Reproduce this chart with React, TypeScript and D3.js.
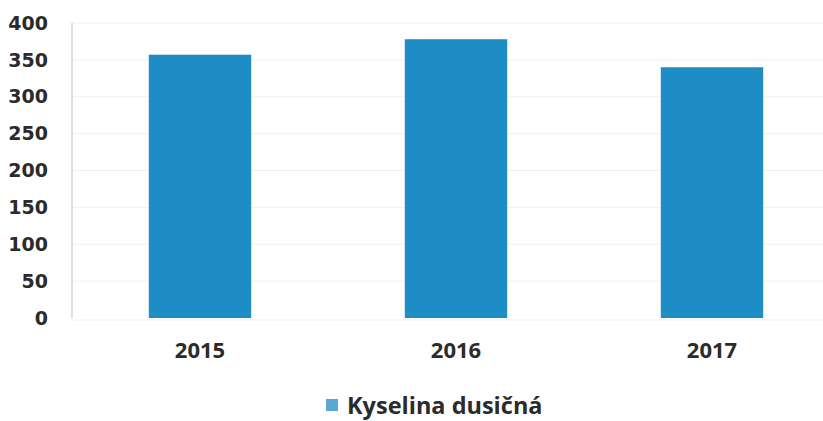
import { useEffect, useRef } from 'react';
import * as d3 from 'd3';

const years = ['2015', '2016', '2017'];
const values = [357, 378, 340];
const yTicks = [0, 50, 100, 150, 200, 250, 300, 350, 400];
const seriesName = 'Kyselina dusičná';

const W = 823;
const H = 421;

export default function App() {
  const svgRef = useRef<SVGSVGElement>(null);

  useEffect(() => {
    if (!svgRef.current) return;
    const svg = d3.select(svgRef.current);
    svg.selectAll('*').remove();

    const left = 72;
    const right = 840;
    const y = d3.scaleLinear().domain([0, 400]).range([318, 23]);
    const x = d3.scaleBand<string>()
      .domain(years)
      .range([left, right])
      .paddingInner(0.6)
      .paddingOuter(0.3);

    // faint gridlines
    svg.append('g')
      .selectAll('line')
      .data(yTicks.slice(1))
      .enter()
      .append('line')
      .attr('x1', left)
      .attr('x2', W)
      .attr('y1', d => y(d))
      .attr('y2', d => y(d))
      .attr('stroke', '#efefef')
      .attr('stroke-width', 1);

    // left axis line
    svg.append('line')
      .attr('x1', left)
      .attr('x2', left)
      .attr('y1', y(400))
      .attr('y2', y(0))
      .attr('stroke', '#d6d6d6')
      .attr('stroke-width', 1.5);

    // bottom baseline
    svg.append('line')
      .attr('x1', left)
      .attr('x2', W)
      .attr('y1', y(0) + 2)
      .attr('y2', y(0) + 2)
      .attr('stroke', '#f0f0f0');

    // bars
    svg.append('g')
      .selectAll('rect')
      .data(years)
      .enter()
      .append('rect')
      .attr('x', d => x(d) || 0)
      .attr('width', x.bandwidth())
      .attr('y', (d, i) => y(values[i]))
      .attr('height', (d, i) => y(0) - y(values[i]))
      .attr('fill', '#1e8dc6');

    // y labels
    svg.append('g')
      .selectAll('text')
      .data(yTicks)
      .enter()
      .append('text')
      .attr('x', 48)
      .attr('y', d => y(d))
      .attr('dy', '0.35em')
      .attr('text-anchor', 'end')
      .style('font-family', 'DejaVu Sans')
      .style('font-weight', 'bold')
      .style('font-size', '19px')
      .style('fill', '#2b2b2b')
      .text(d => d);

    // x labels
    svg.append('g')
      .selectAll('text')
      .data(years)
      .enter()
      .append('text')
      .attr('x', d => (x(d) || 0) + x.bandwidth() / 2)
      .attr('y', 358)
      .attr('text-anchor', 'middle')
      .style('font-family', 'Open Sans')
      .style('font-weight', 'bold')
      .style('font-size', '22px')
      .style('fill', '#2b2b2b')
      .text(d => d);

    // legend
    svg.append('rect')
      .attr('x', 326)
      .attr('y', 399)
      .attr('width', 12)
      .attr('height', 12)
      .attr('fill', '#5aa6d4');
    svg.append('text')
      .attr('x', 347)
      .attr('y', 414)
      .style('font-family', 'Open Sans')
      .style('font-weight', 'bold')
      .style('font-size', '23.5px')
      .style('fill', '#2b2b2b')
      .text(seriesName);
  }, []);

  return (
    <svg
      ref={svgRef}
      width={W}
      height={H}
      style={{ position: 'absolute', left: 0, top: 0, background: '#fff' }}
    />
  );
}
